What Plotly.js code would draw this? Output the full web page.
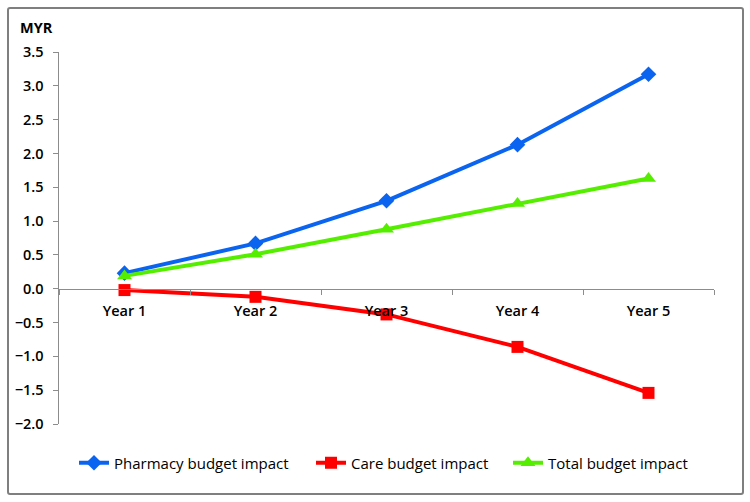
<!DOCTYPE html>
<html>
<head>
<meta charset="utf-8">
<script src="https://cdn.plot.ly/plotly-3.0.1.min.js"></script>
<style>
html,body{margin:0;padding:0;background:#fff;}
#wrap{position:relative;width:750px;height:502px;}
#chart{width:750px;height:502px;}
#frame{position:absolute;left:7px;top:7px;width:733px;height:484px;border:2px solid #7f7f7f;border-radius:3px;pointer-events:none;}
</style>
</head>
<body>
<div id="wrap"><div id="chart"></div><div id="frame"></div></div>
<script>
const years = ["Year 1", "Year 2", "Year 3", "Year 4", "Year 5"];
const pharmacy = [0.23, 0.67, 1.30, 2.13, 3.17];
const care = [-0.02, -0.12, -0.38, -0.86, -1.54];
const total = [0.19, 0.51, 0.88, 1.26, 1.63];
const seriesNames = ["Pharmacy budget impact", "Care budget impact", "Total budget impact"];
const yTicks = [-2.0, -1.5, -1.0, -0.5, 0.0, 0.5, 1.0, 1.5, 2.0, 2.5, 3.0, 3.5];

const fam = "Open Sans, Liberation Sans, sans-serif";
const font = {family: fam, size: 14.5, color: "#000", weight: 600};

const traces = [
  {x: years, y: pharmacy, name: seriesNames[0], type: "scatter", mode: "lines+markers", legend: "legend",
   line: {color: "#0a64f0", width: 4}, marker: {symbol: "diamond", size: 12, color: "#0a64f0"}},
  {x: years, y: care, name: seriesNames[1], type: "scatter", mode: "lines+markers", legend: "legend2",
   line: {color: "#ff0000", width: 4}, marker: {symbol: "square", size: 12, color: "#ff0000"}},
  {x: years, y: total, name: seriesNames[2], type: "scatter", mode: "lines+markers", legend: "legend3",
   line: {color: "#55ee00", width: 4}, marker: {symbol: "triangle-up", size: 13, color: "#55ee00"}}
];

function leg(xpx) {
  return {orientation: "h", x: (xpx - 59) / 655, xanchor: "left", y: -0.105, yanchor: "middle",
          font: {family: fam, size: 15, color: "#000"}, itemwidth: 30, bgcolor: "rgba(0,0,0,0)"};
}

const layout = {
  width: 750, height: 502,
  margin: {l: 59, r: 36, t: 52, b: 78},
  paper_bgcolor: "#fff", plot_bgcolor: "#fff",
  showlegend: true,
  legend: leg(74),
  legend2: leg(311),
  legend3: leg(508),
  xaxis: {type: "category", range: [-0.5, 4.5], anchor: "free", position: 2/5.5,
          showline: true, linecolor: "#8c8c8c", linewidth: 1.5,
          ticks: "outside", tickson: "boundaries", ticklen: 5, tickcolor: "#8c8c8c",
          ticklabelstandoff: 8,
          showgrid: false, zeroline: false, tickfont: font, fixedrange: true},
  yaxis: {range: [-2.0, 3.5], tickvals: yTicks, tickformat: ".1f",
          showline: true, linecolor: "#8c8c8c", linewidth: 1.5,
          ticks: "outside", ticklen: 5, tickcolor: "#8c8c8c",
          ticklabelstandoff: 6,
          showgrid: false, zeroline: false, tickfont: font, fixedrange: true},
  annotations: [{text: "MYR", xref: "paper", yref: "paper", x: -0.034, y: 1.065,
                 xanchor: "center", yanchor: "middle", showarrow: false,
                 font: {family: fam, size: 14.5, color: "#000", weight: 700}}]
};

Plotly.newPlot("chart", traces, layout, {displayModeBar: false, staticPlot: true});
</script>
</body>
</html>
